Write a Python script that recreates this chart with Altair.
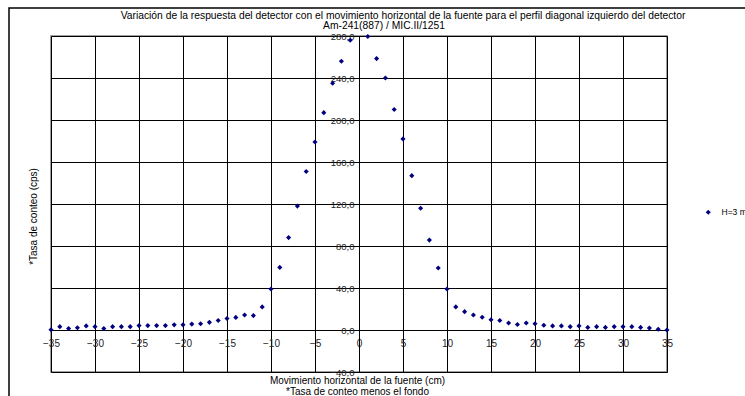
import altair as alt
import pandas as pd

# ---- data ----
x_left = [-35, -34, -33, -32, -31, -30, -29, -28, -27, -26, -25, -24, -23, -22, -21,
          -20, -19, -18, -17, -16, -15, -14, -13, -12, -11, -10, -9, -8, -7, -6,
          -5, -4, -3, -2, -1]
y_left = [0.3, 3.2, 1.4, 2.1, 3.9, 3.2, 1.4, 3.2, 3.2, 3.2, 4.2, 4.2, 4.2, 4.2, 4.9,
          4.9, 5.6, 6.0, 7.3, 9.0, 11.0, 12.0, 14.3, 13.7, 22.0, 39.0, 59.6, 88.0, 118.0, 151.0,
          179.0, 207.0, 235.0, 256.0, 276.0]
x_right = [1, 2, 3, 4, 5, 6, 7, 8, 9, 10, 11, 12, 13, 14, 15, 16, 17, 18, 19, 20,
           21, 22, 23, 24, 25, 26, 27, 28, 29, 30, 31, 32, 33, 34, 35]
y_right = [279.5, 258.5, 240.0, 210.0, 182.0, 147.0, 116.0, 85.6, 59.0, 39.0, 22.0, 17.5, 14.3, 12.2, 9.8,
           9.0, 6.6, 5.2, 6.6, 5.9, 4.5, 3.9, 3.9, 3.2, 3.9, 2.5, 3.2, 2.5, 3.2, 3.2,
           3.2, 2.5, 1.8, 0.7, 0.0]
series_name = "H=3 m"

x_ticks = [-35, -30, -25, -20, -15, -10, -5, 0, 5, 10, 15, 20, 25, 30, 35]
y_ticks = [-40, 0, 40, 80, 120, 160, 200, 240, 280]

title_1 = "Variación de la respuesta  del detector con el movimiento horizontal de la fuente para el perfil diagonal izquierdo del detector"
title_2 = "Am-241(887) / MIC.II/1251"
x_title = ["Movimiento horizontal de la fuente (cm)", "*Tasa de conteo menos el fondo"]
y_title = "*Tasa de conteo (cps)"

df = pd.DataFrame({
    "x": x_left + x_right,
    "y": y_left + y_right,
    "serie": [series_name] * (len(x_left) + len(x_right)),
})
one = pd.DataFrame({"t1": [title_1], "t2": [title_2]})

FONT = "Liberation Sans"
W, H = 616, 336

points = alt.Chart(df).mark_point(shape="diamond", filled=True, size=26, opacity=1).encode(
    x=alt.X("x:Q",
            scale=alt.Scale(domain=[-35, 35], nice=False, zero=False),
            axis=alt.Axis(values=x_ticks, offset=-42, grid=True, gridColor="#000000",
                          gridWidth=1, gridOpacity=1, domainColor="#000000", domainWidth=1,
                          tickColor="#000000", tickSize=4, labelPadding=4,
                          labelFont=FONT, labelFontSize=10, labelColor="#222222",
                          labelFlush=False,
                          title=x_title, titleFont=FONT, titleFontSize=10,
                          titleFontWeight="normal", titleColor="#000000",
                          titleX=306, titleY=45, titleBaseline="top", titleAlign="center",
                          titleLineHeight=11)),
    y=alt.Y("y:Q",
            scale=alt.Scale(domain=[-40, 280], nice=False, zero=False),
            axis=alt.Axis(values=y_ticks, offset=-308, grid=True, gridColor="#000000",
                          gridWidth=1, gridOpacity=1, domainColor="#000000", domainWidth=1,
                          tickColor="#000000", tickSize=3, labelPadding=2,
                          labelFont=FONT, labelFontSize=9.5, labelColor="#222222",
                          labelExpr="replace(format(datum.value, '.1f'), '.', ',')",
                          title=y_title, titleFont=FONT, titleFontSize=10,
                          titleFontWeight="normal", titleColor="#000000",
                          titleX=-326, titleY=180, titleAngle=-90,
                          titleAlign="center", titleBaseline="middle")),
    color=alt.Color("serie:N",
                    scale=alt.Scale(range=["#000080"]),
                    legend=alt.Legend(title=None, orient="none", legendX=653, legendY=172,
                                      symbolType="diamond", symbolSize=26,
                                      labelFont=FONT, labelFontSize=8.5,
                                      labelColor="#000000", labelOffset=9)),
)

frame = alt.Chart(one).mark_rect(fill=None, stroke="#000000", strokeWidth=1.5).encode(
    x=alt.value(-42), x2=alt.value(760), y=alt.value(-28), y2=alt.value(420)
)

t1 = alt.Chart(one).mark_text(font=FONT, fontSize=10.3, color="#000000", align="center",
                               baseline="middle").encode(
    x=alt.value(352), y=alt.value(-20), text="t1:N"
)
t2 = alt.Chart(one).mark_text(font=FONT, fontSize=10.3, color="#000000", align="center",
                               baseline="middle").encode(
    x=alt.value(333), y=alt.value(-10), text="t2:N"
)

chart = alt.layer(frame, points, t1, t2).properties(
    width=W, height=H,
    padding={"left": 51, "top": 36, "right": 78, "bottom": 24},
    autosize=alt.AutoSizeParams(type="none"),
    background="#ffffff",
).configure_view(stroke="#808080", strokeWidth=1.5)

chart.save("out.html", embed_options={"renderer": "svg", "actions": False})
